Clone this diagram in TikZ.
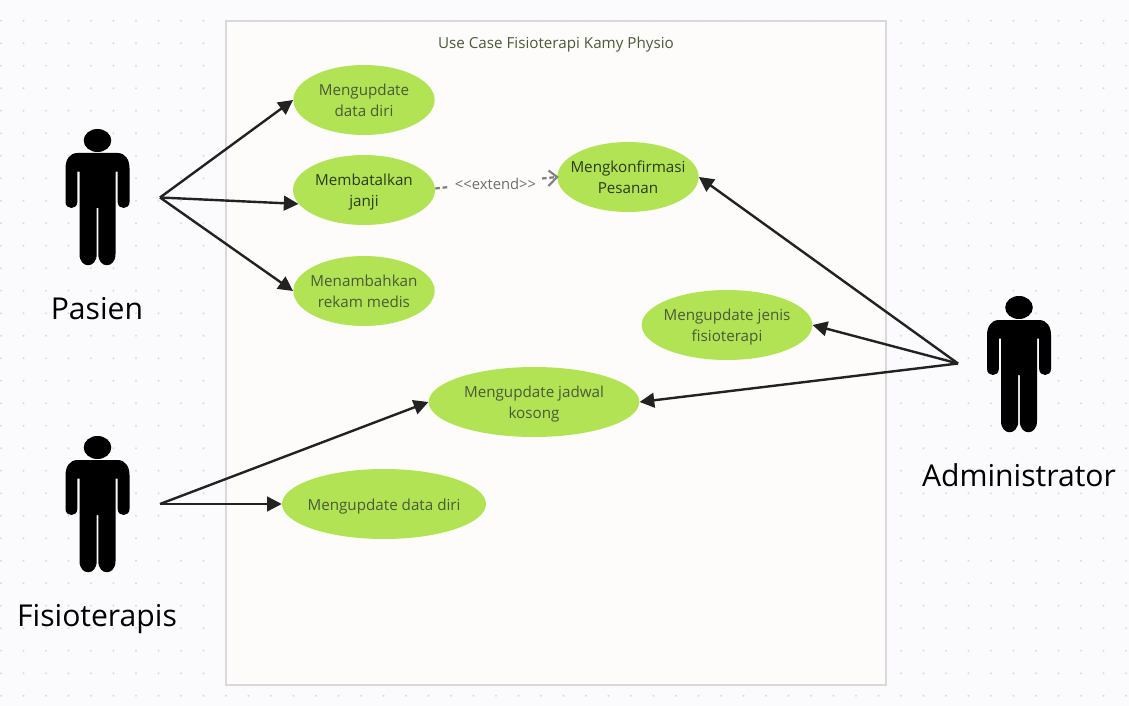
\documentclass[tikz,border=0pt]{standalone}
\usepackage{fontspec}
\setmainfont{Open Sans}
\usetikzlibrary{shapes.geometric,arrows.meta}
\definecolor{bgc}{HTML}{FBFBFD}
\definecolor{framec}{HTML}{FDFCFB}
\definecolor{framel}{HTML}{D9D9DC}
\definecolor{dotc}{HTML}{DCDCDF}
\definecolor{ucfill}{HTML}{B2E354}
\definecolor{uctext}{HTML}{4A5A3A}
\definecolor{ucdark}{HTML}{2A3A20}
\definecolor{linec}{HTML}{222222}
\definecolor{dashc}{HTML}{808080}
\tikzset{
  uc/.style={ellipse,fill=ucfill,inner sep=-10pt,text=uctext,font=\fontsize{11.4pt}{15.8pt}\selectfont,align=center},
  assoc/.style={draw=linec,line width=1.8pt,-{Triangle[length=11pt,width=11pt]}},
  extendline/.style={draw=dashc,line width=1.7pt,dash pattern=on 3.5pt off 2pt},
  actorlabel/.style={font=\fontsize{22.6pt}{26pt}\selectfont,text=black,inner sep=0pt,anchor=base},
  plain/.style={inner sep=0pt,text=uctext},
}
\newcommand{\uct}[1]{\raisebox{0pt}[\dimexpr\height+3pt\relax][\depth]{\begin{tabular}{@{}c@{}}#1\end{tabular}}}
\newcommand{\actorfig}[2]{%
  \begin{scope}[shift={(#1,#2)}]
    \fill[black] (0,-55.5) ellipse [x radius=13.8,y radius=11.5];
    \fill[black]
      (-20,-43) -- (20,-43) .. controls (28,-43) and (32,-36) .. (32,-28)
      -- (32,6) .. controls (32,14) and (20.2,14) .. (20.2,6)
      -- (20.2,-24.3) -- (18,-24.3) -- (18,58) .. controls (18,73) and (0.8,73) .. (0.8,58)
      -- (0.8,12) -- (-0.8,12) -- (-0.8,58) .. controls (-0.8,73) and (-18,73) .. (-18,58)
      -- (-18,-24.3) -- (-20.2,-24.3) -- (-20.2,6) .. controls (-20.2,14) and (-32,14) .. (-32,6)
      -- (-32,-28) .. controls (-32,-36) and (-28,-43) .. (-20,-43) -- cycle;
  \end{scope}}
\begin{document}
\begin{tikzpicture}[x=0.75pt,y=-0.75pt]
\useasboundingbox (0,0) rectangle (1129,706);
\fill[bgc] (0,0) rectangle (1129,706);
\foreach \i in {0,...,50}{\foreach \j in {0,...,31}{
  \fill[dotc] ({1+22.5*\i},{20.7+22.5*\j-22.5}) circle [radius=1.1];
}}
\draw[draw=framel,fill=framec,line width=1.6pt] (226,21) rectangle (886,685);
\node[plain,font=\fontsize{11.4pt}{13pt}\selectfont] (title) at (556,44.5) {Use Case Fisioterapi Kamy Physio};

\actorfig{97.5}{196}
\actorfig{97.5}{503}
\actorfig{1019}{363}
\node[actorlabel] (pasien) at (97,319.5) {Pasien};
\node[actorlabel] (fisio) at (97,626) {Fisioterapis};
\node[actorlabel] (admin) at (1019,486.5) {Administrator};

\coordinate (pa) at (160,197.5);
\coordinate (fa) at (160,504);
\coordinate (ad) at (958,363.5);

\node[uc,minimum width=106pt,minimum height=52.5pt] (u1) at (364,100) {\uct{Mengupdate\\data diri}};
\node[uc,minimum width=106.5pt,minimum height=52.5pt,text=ucdark] (u2) at (364,190) {\uct{Membatalkan\\janji}};
\node[uc,minimum width=106pt,minimum height=52.5pt] (u3) at (364,291) {\uct{Menambahkan\\rekam medis}};
\node[uc,minimum width=106pt,minimum height=52.5pt,text=ucdark] (u4) at (628,177) {\uct{Mengkonfirmasi\\Pesanan}};
\node[uc,minimum width=128pt,minimum height=52.5pt] (u5) at (727,325) {\uct{Mengupdate jenis\\fisioterapi}};
\node[uc,minimum width=158pt,minimum height=52.5pt] (u6) at (534,402) {\uct{Mengupdate jadwal\\kosong}};
\node[uc,minimum width=153pt,minimum height=52.5pt] (u7) at (384,504) {\uct{Mengupdate data diri}};

\draw[assoc] (pa) -- (u1.west);
\draw[assoc] (pa) -- (u2.192.5);
\draw[assoc] (pa) -- (u3.west);
\draw[assoc] (fa) -- (u6.west);
\draw[assoc] (fa) -- (u7.west);
\draw[assoc] (ad) -- (u4.east);
\draw[assoc] (ad) -- (u5.east);
\draw[assoc] (ad) -- (u6.east);

\node[inner sep=0pt,text=dashc!85!black,font=\fontsize{11.1pt}{13pt}\selectfont] (ext) at (495.5,184) {<{}<extend>{}>};
\coordinate (ex1) at (449,187);
\coordinate (ex2) at (542,178.5);
\draw[extendline] (u2.east |- 0,188.5) -- (ex1);
\draw[extendline] (ex2) -- (u4.west);
\draw[draw=dashc,line width=1.6pt] (548.5,170.5) -- (u4.west) -- (548.5,186);
\end{tikzpicture}
\end{document}
